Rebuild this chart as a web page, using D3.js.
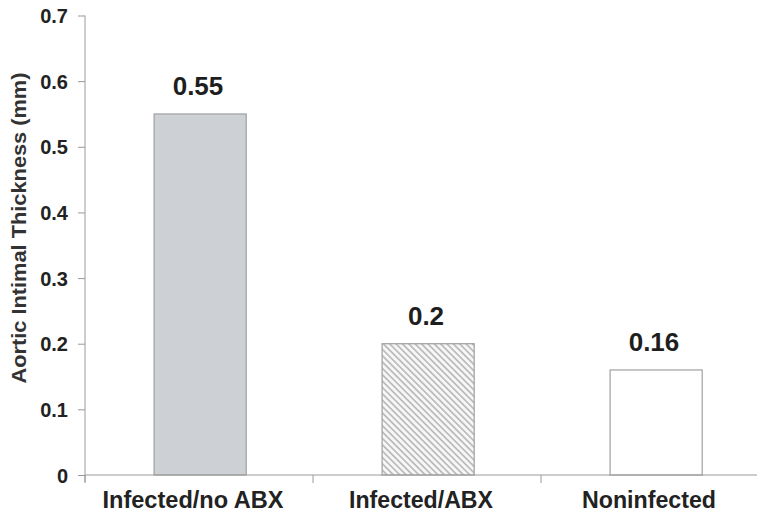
<!DOCTYPE html>
<html><head><meta charset="utf-8">
<script src="https://cdn.jsdelivr.net/npm/d3@7"></script>
<style>body{margin:0;background:#fff}svg{display:block}</style>
</head><body><svg id="c" width="757" height="514"></svg>
<script>
const categories = ["Infected/no ABX", "Infected/ABX", "Noninfected"];
const values = [0.55, 0.2, 0.16];
const valueLabels = ["0.55", "0.2", "0.16"];
const yTicks = [0, 0.1, 0.2, 0.3, 0.4, 0.5, 0.6, 0.7];
const yTickLabels = ["0", "0.1", "0.2", "0.3", "0.4", "0.5", "0.6", "0.7"];
const yTitle = "Aortic Intimal Thickness (mm)";

const svg = d3.select("#c");
const font = "'Liberation Sans', Arial, sans-serif";
const axisCol = "#9a9a9a";

const x = d3.scaleBand().domain(categories).range([85, 769]).padding(0);
const y = d3.scaleLinear().domain([0, 0.7]).range([475, 15.5]);

const defs = svg.append("defs");
const pat = defs.append("pattern").attr("id", "hatch").attr("patternUnits", "userSpaceOnUse")
  .attr("width", 4.5).attr("height", 4.5).attr("patternTransform", "rotate(-45)");
pat.append("rect").attr("width", 4.5).attr("height", 4.5).attr("fill", "#f7f7f7");
pat.append("rect").attr("x", 0).attr("width", 1.8).attr("height", 4.5).attr("fill", "#bdbdbd");

const fills = ["#cdd0d4", "url(#hatch)", "#ffffff"];

// bars
svg.selectAll("rect.bar").data(categories).join("rect").attr("class", "bar")
  .attr("x", d => x(d) + x.bandwidth() * 0.303)
  .attr("width", x.bandwidth() * 0.404)
  .attr("y", (d, i) => y(values[i]))
  .attr("height", (d, i) => y(0) - y(values[i]))
  .attr("fill", (d, i) => fills[i])
  .attr("stroke", "#a0a0a0").attr("stroke-width", 1.2);

// value labels
svg.selectAll("text.val").data(categories).join("text").attr("class", "val")
  .attr("x", d => x(d) + x.bandwidth() / 2 - 1)
  .attr("y", (d, i) => y(values[i]) - 19)
  .attr("text-anchor", "middle")
  .attr("font-family", font).attr("font-weight", "bold").attr("font-size", 26)
  .attr("fill", "#1e1e1e")
  .text((d, i) => valueLabels[i]);

// y axis
const yAxis = d3.axisLeft(y).tickValues(yTicks).tickSize(7).tickPadding(10)
  .tickFormat((d, i) => yTickLabels[i]);
const gy = svg.append("g").attr("transform", "translate(85,0)").call(yAxis);
gy.select(".domain").attr("d", "M0,15.5V482").attr("stroke", axisCol);
gy.selectAll(".tick line").attr("stroke", axisCol);
gy.selectAll(".tick text").attr("font-family", font).attr("font-weight", "bold")
  .attr("font-size", 20).attr("fill", "#222").attr("dy", "0.36em");

// x axis
const xAxis = d3.axisBottom(x).tickSize(0).tickPadding(0);
const gx = svg.append("g").attr("transform", "translate(0,475)").call(xAxis);
gx.select(".domain").attr("d", "M85,0H769").attr("stroke", axisCol);
gx.selectAll(".tick text").remove();
gx.selectAll(".tick line").remove();
const bounds = categories.map(d => x(d)).concat([x(categories[categories.length - 1]) + x.bandwidth()]);
gx.selectAll("line.b").data(bounds).join("line").attr("class", "b")
  .attr("x1", d => d).attr("x2", d => d).attr("y1", 0).attr("y2", 8).attr("stroke", axisCol);
const labelLens = [181, 144, 134];
gx.selectAll("text.cat").data(categories).join("text").attr("class", "cat")
  .attr("x", d => x(d) + x.bandwidth() / 2 - 6)
  .attr("y", 33)
  .attr("text-anchor", "middle")
  .attr("font-family", font).attr("font-weight", "bold").attr("font-size", 23)
  .attr("fill", "#222")
  .attr("textLength", (d, i) => labelLens[i]).attr("lengthAdjust", "spacingAndGlyphs")
  .text(d => d);

// y title
svg.append("text")
  .attr("transform", "translate(26,228) rotate(-90)")
  .attr("text-anchor", "middle")
  .attr("font-family", font).attr("font-weight", "bold").attr("font-size", 20.5)
  .attr("fill", "#333")
  .attr("textLength", 311).attr("lengthAdjust", "spacingAndGlyphs")
  .text(yTitle);
</script></body></html>
